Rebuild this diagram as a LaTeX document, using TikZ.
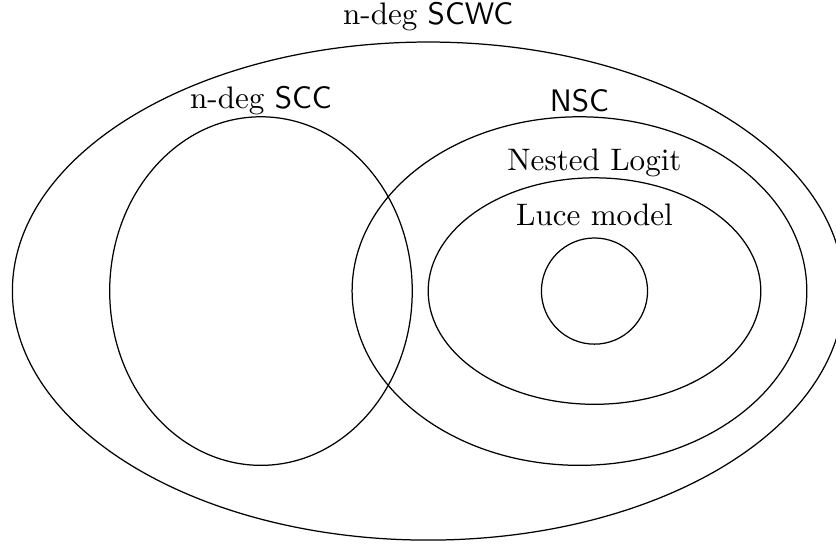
\documentclass[tikz,border=0pt]{standalone}
\usepackage{tikz}
\usetikzlibrary{shapes.geometric,positioning}

\begin{document}
\begin{tikzpicture}[
set/.style={
  draw,
  ellipse,
  inner sep=0pt
},
lbl/.style={
  anchor=base,
  inner sep=0pt
}
]
\useasboundingbox (-4.84,-2.88) rectangle (4.61,3.29);
\node[set,minimum width=9.40cm,minimum height=5.63cm] at (0,0)
  (scwc) {};
\node[set,minimum width=3.42cm,minimum height=3.94cm] at (-1.89,0)
  (scc) {};
\node[set,minimum width=5.14cm,minimum height=3.94cm] at (1.71,0)
  (nsc) {};
\node[set,minimum width=3.76cm,minimum height=2.56cm] at (1.88,0)
  (nl) {};
\node[set,circle,minimum size=1.2cm] at (nl.center)
  (luce) {};

\node[lbl] at ([yshift=5.5pt]scwc.north)
  (scwc-l) {n-deg \textsf{SCWC}};
\node[lbl] at ([yshift=2.6pt]scc.north)
  (scc-l) {n-deg \textsf{SCC}};
\node[lbl] at ([yshift=1.6pt]nsc.north)
  (nsc-l) {\textsf{NSC}};
\node[lbl] at ([yshift=2.25pt]nl.north)
  (nl-l) {Nested Logit};
\node[lbl] at ([yshift=3.9pt]luce.north)
  (luce-l) {Luce model};
\end{tikzpicture}
\end{document}
